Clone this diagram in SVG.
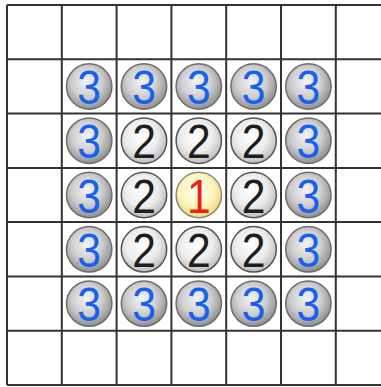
<svg xmlns="http://www.w3.org/2000/svg" width="381" height="387" viewBox="0 0 381 387">
<style>
.grid line{stroke:#333;stroke-width:2}
.b3 circle{fill:url(#g3);stroke:#6e6e6e;stroke-width:1.5}
.b2 circle{fill:url(#g2);stroke:#555;stroke-width:1.5}
.b1 circle{fill:url(#g1);stroke:#8a8a70;stroke-width:1.5}
text{font-family:"Liberation Sans",Arial,sans-serif;font-size:49px;text-anchor:middle}
.b3 text{fill:#1760f0}
.b2 text{fill:#1e1e1e}
.b1 text{fill:#f02010}
</style>
<defs>
<radialGradient id="g3" cx="0.45" cy="0.4" r="0.6">
<stop offset="0" stop-color="#f4f4f4"/>
<stop offset="0.55" stop-color="#cfcfcf"/>
<stop offset="1" stop-color="#8f8f8f"/>
</radialGradient>
<radialGradient id="g2" cx="0.45" cy="0.4" r="0.6">
<stop offset="0" stop-color="#ffffff"/>
<stop offset="0.6" stop-color="#ececec"/>
<stop offset="1" stop-color="#bdbdbd"/>
</radialGradient>
<radialGradient id="g1" cx="0.45" cy="0.4" r="0.6">
<stop offset="0" stop-color="#fffff4"/>
<stop offset="0.6" stop-color="#fdf4bf"/>
<stop offset="1" stop-color="#eedc80"/>
</radialGradient>
</defs>
<rect width="381" height="387" fill="#fff"/>
<g id="grid" class="grid">
<line x1="7" y1="5" x2="381" y2="5"/>
<line x1="7" y1="59.3" x2="381" y2="59.3"/>
<line x1="7" y1="113.6" x2="381" y2="113.6"/>
<line x1="7" y1="167.9" x2="381" y2="167.9"/>
<line x1="7" y1="222.1" x2="381" y2="222.1"/>
<line x1="7" y1="276.4" x2="381" y2="276.4"/>
<line x1="7" y1="330.7" x2="381" y2="330.7"/>
<line x1="7" y1="385" x2="381" y2="385"/>
<line x1="7" y1="5" x2="7" y2="385"/>
<line x1="61.8" y1="5" x2="61.8" y2="385"/>
<line x1="116.6" y1="5" x2="116.6" y2="385"/>
<line x1="171.4" y1="5" x2="171.4" y2="385"/>
<line x1="226.2" y1="5" x2="226.2" y2="385"/>
<line x1="281" y1="5" x2="281" y2="385"/>
<line x1="335.8" y1="5" x2="335.8" y2="385"/>
</g>
<g id="r1c1" class="b3" transform="translate(89.2,86.5)"><circle r="22.7"/><text transform="scale(0.87,1)" y="17.5">3</text></g>
<g id="r1c2" class="b3" transform="translate(144,86.5)"><circle r="22.7"/><text transform="scale(0.87,1)" y="17.5">3</text></g>
<g id="r1c3" class="b3" transform="translate(198.8,86.5)"><circle r="22.7"/><text transform="scale(0.87,1)" y="17.5">3</text></g>
<g id="r1c4" class="b3" transform="translate(253.6,86.5)"><circle r="22.7"/><text transform="scale(0.87,1)" y="17.5">3</text></g>
<g id="r1c5" class="b3" transform="translate(308.4,86.5)"><circle r="22.7"/><text transform="scale(0.87,1)" y="17.5">3</text></g>
<g id="r2c1" class="b3" transform="translate(89.2,140.7)"><circle r="22.7"/><text transform="scale(0.87,1)" y="17.5">3</text></g>
<g id="r2c2" class="b2" transform="translate(144,140.7)"><circle r="22.7"/><text transform="scale(0.87,1)" y="17.5">2</text></g>
<g id="r2c3" class="b2" transform="translate(198.8,140.7)"><circle r="22.7"/><text transform="scale(0.87,1)" y="17.5">2</text></g>
<g id="r2c4" class="b2" transform="translate(253.6,140.7)"><circle r="22.7"/><text transform="scale(0.87,1)" y="17.5">2</text></g>
<g id="r2c5" class="b3" transform="translate(308.4,140.7)"><circle r="22.7"/><text transform="scale(0.87,1)" y="17.5">3</text></g>
<g id="r3c1" class="b3" transform="translate(89.2,195)"><circle r="22.7"/><text transform="scale(0.87,1)" y="17.5">3</text></g>
<g id="r3c2" class="b2" transform="translate(144,195)"><circle r="22.7"/><text transform="scale(0.87,1)" y="17.5">2</text></g>
<g id="r3c3" class="b1" transform="translate(198.8,195)"><circle r="22.7"/><text transform="scale(0.87,1)" y="17.5">1</text></g>
<g id="r3c4" class="b2" transform="translate(253.6,195)"><circle r="22.7"/><text transform="scale(0.87,1)" y="17.5">2</text></g>
<g id="r3c5" class="b3" transform="translate(308.4,195)"><circle r="22.7"/><text transform="scale(0.87,1)" y="17.5">3</text></g>
<g id="r4c1" class="b3" transform="translate(89.2,249.3)"><circle r="22.7"/><text transform="scale(0.87,1)" y="17.5">3</text></g>
<g id="r4c2" class="b2" transform="translate(144,249.3)"><circle r="22.7"/><text transform="scale(0.87,1)" y="17.5">2</text></g>
<g id="r4c3" class="b2" transform="translate(198.8,249.3)"><circle r="22.7"/><text transform="scale(0.87,1)" y="17.5">2</text></g>
<g id="r4c4" class="b2" transform="translate(253.6,249.3)"><circle r="22.7"/><text transform="scale(0.87,1)" y="17.5">2</text></g>
<g id="r4c5" class="b3" transform="translate(308.4,249.3)"><circle r="22.7"/><text transform="scale(0.87,1)" y="17.5">3</text></g>
<g id="r5c1" class="b3" transform="translate(89.2,303.6)"><circle r="22.7"/><text transform="scale(0.87,1)" y="17.5">3</text></g>
<g id="r5c2" class="b3" transform="translate(144,303.6)"><circle r="22.7"/><text transform="scale(0.87,1)" y="17.5">3</text></g>
<g id="r5c3" class="b3" transform="translate(198.8,303.6)"><circle r="22.7"/><text transform="scale(0.87,1)" y="17.5">3</text></g>
<g id="r5c4" class="b3" transform="translate(253.6,303.6)"><circle r="22.7"/><text transform="scale(0.87,1)" y="17.5">3</text></g>
<g id="r5c5" class="b3" transform="translate(308.4,303.6)"><circle r="22.7"/><text transform="scale(0.87,1)" y="17.5">3</text></g>
</svg>
